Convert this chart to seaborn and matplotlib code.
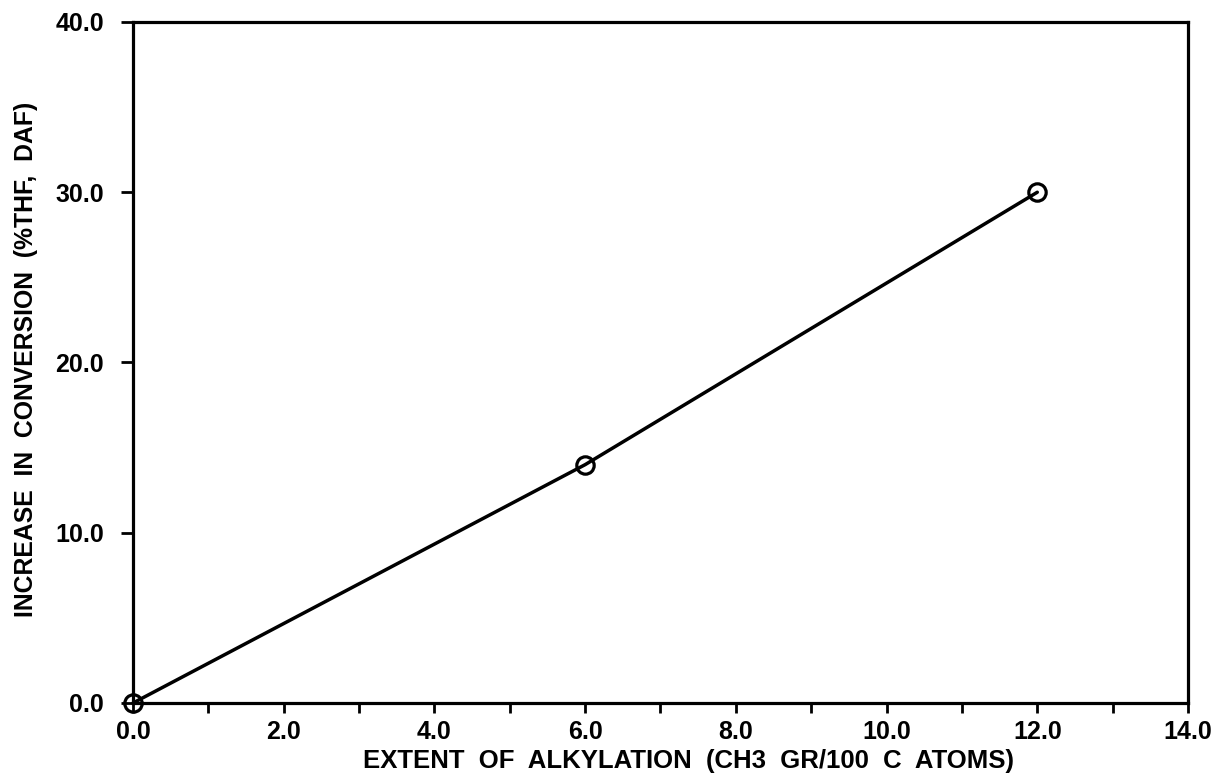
import matplotlib
matplotlib.use("Agg")
import matplotlib.pyplot as plt
import seaborn as sns
from matplotlib.ticker import MultipleLocator, FormatStrFormatter

# data
alkylation = [0.0, 6.0, 12.0]
conversion_increase = [0.0, 14.0, 30.0]

x_label = "EXTENT  OF  ALKYLATION  (CH3  GR/100  C  ATOMS)"
y_label = "INCREASE  IN  CONVERSION  (%THF,  DAF)"

sns.set_style("ticks")
plt.rcParams['font.family'] = ['Liberation Sans', 'DejaVu Sans']
plt.rcParams['font.weight'] = 'bold'
plt.rcParams['text.color'] = 'black'
plt.rcParams['axes.labelcolor'] = 'black'
plt.rcParams['xtick.color'] = 'black'
plt.rcParams['ytick.color'] = 'black'

fig = plt.figure(figsize=(12.23, 7.79), dpi=100)
ax = fig.add_axes([133 / 1223, 1 - 703 / 779, (1188 - 133) / 1223, (703 - 22) / 779])

sns.lineplot(x=alkylation, y=conversion_increase, ax=ax, color="black",
             linewidth=2.5, marker="o", markersize=12.5,
             markerfacecolor="none", markeredgecolor="black",
             markeredgewidth=2.3, clip_on=False, zorder=5)

ax.set_xlim(0, 14)
ax.set_ylim(0, 40)
ax.xaxis.set_major_locator(MultipleLocator(2))
ax.xaxis.set_minor_locator(MultipleLocator(1))
ax.yaxis.set_major_locator(MultipleLocator(10))
ax.xaxis.set_major_formatter(FormatStrFormatter("%.1f"))
ax.yaxis.set_major_formatter(FormatStrFormatter("%.1f"))

for side in ["top", "right", "bottom", "left"]:
    ax.spines[side].set_visible(True)
    ax.spines[side].set_linewidth(2.3)
    ax.spines[side].set_color("black")

ax.tick_params(axis="x", which="both", direction="out", length=7, width=2,
               pad=5, labelsize=18, top=False)
ax.tick_params(axis="y", which="major", direction="out", length=9, width=2,
               pad=12, labelsize=18, right=False)

ax.set_xlabel(x_label, fontsize=18.5, fontweight="bold")
ax.set_ylabel(y_label, fontsize=17.8, fontweight="bold")
ax.xaxis.set_label_coords(0.527, -0.068)
ax.yaxis.set_label_coords(-0.09, 0.505)

fig.savefig("out.png", dpi=100)
